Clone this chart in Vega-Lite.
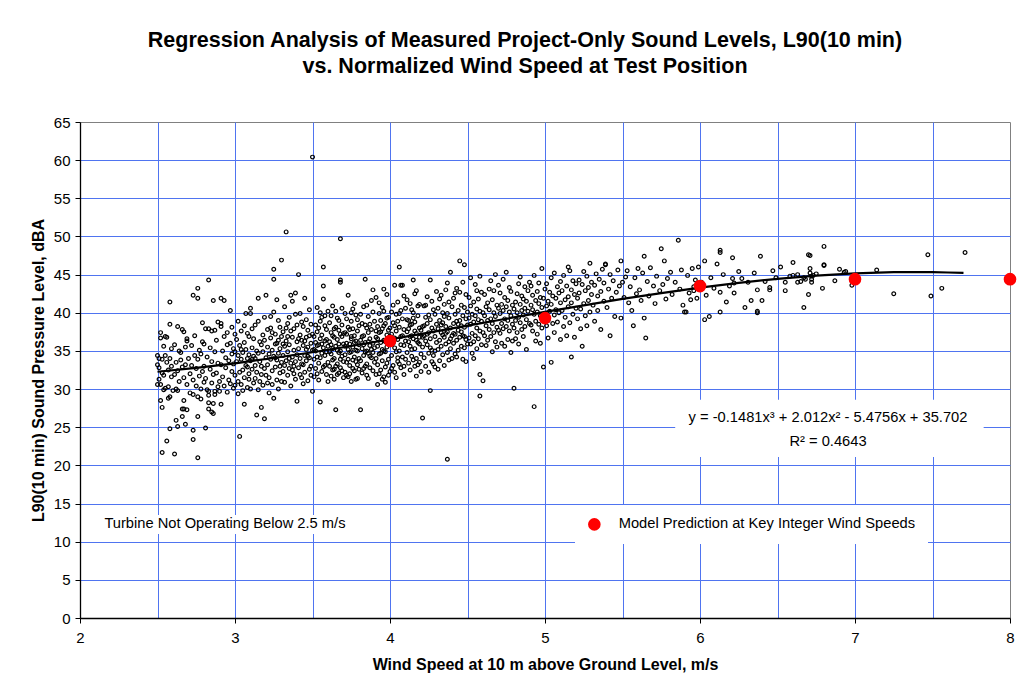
{
"$schema": "https://vega.github.io/schema/vega-lite/v6.json",
"width": 930, "height": 496,
"autosize": "none",
"padding": {"left": 80, "top": 122, "right": 9, "bottom": 71},
"background": "white",
"config": {"view": {"stroke": "#808080", "strokeWidth": 1}, "font": "Liberation Sans"},
"title": {"text": ["Regression Analysis of Measured Project-Only Sound Levels, L90(10 min)", "vs. Normalized Wind Speed at Test Position"], "font": "Liberation Sans", "fontSize": 21.5, "fontWeight": "bold", "color": "black", "anchor": "middle", "frame": "group", "offset": 38, "dx": -20, "lineHeight": 26},
"datasets": {
"boxes": [
{"x": 5.84, "x2": 7.83, "y": 21.1, "y2": 28.6},
{"x": 2.13, "x2": 3.77, "y": 11.0, "y2": 13.5}
],
"notes": [
{"x": 6.826, "y": 26.2, "text": "y = -0.1481x³ + 2.012x² - 5.4756x + 35.702"},
{"x": 6.826, "y": 23.07, "text": "R² = 0.4643"},
{"x": 2.935, "y": 12.3, "text": "Turbine Not Operating Below 2.5 m/s"}
],
"model": [
{"x": 4, "y": 36.3}, {"x": 5, "y": 39.3}, {"x": 6, "y": 43.5}, {"x": 7, "y": 44.4}, {"x": 8, "y": 44.4}
],
"trend": [
{"x": 2.5, "y": 32.27}, {"x": 2.75, "y": 32.78}, {"x": 3.0, "y": 33.38}, {"x": 3.25, "y": 34.07}, {"x": 3.5, "y": 34.83}, {"x": 3.75, "y": 35.65}, {"x": 4.0, "y": 36.51}, {"x": 4.25, "y": 37.4}, {"x": 4.5, "y": 38.31}, {"x": 4.75, "y": 39.22}, {"x": 5.0, "y": 40.11}, {"x": 5.25, "y": 40.98}, {"x": 5.5, "y": 41.81}, {"x": 5.75, "y": 42.58}, {"x": 6.0, "y": 43.29}, {"x": 6.25, "y": 43.92}, {"x": 6.5, "y": 44.45}, {"x": 6.75, "y": 44.87}, {"x": 7.0, "y": 45.16}, {"x": 7.25, "y": 45.32}, {"x": 7.5, "y": 45.33}, {"x": 7.6, "y": 45.28}, {"x": 7.7, "y": 45.22}
],
"pts": [
{"x":2.50,"y":34.4},{"x":2.50,"y":33.2},{"x":2.50,"y":30.6},{"x":2.51,"y":34.0},{"x":2.51,"y":31.3},{"x":2.51,"y":32.8},{"x":2.52,"y":37.4},{"x":2.52,"y":36.7},{"x":2.52,"y":30.6},{"x":2.52,"y":28.5},{"x":2.53,"y":27.6},{"x":2.53,"y":21.7},{"x":2.53,"y":33.9},{"x":2.53,"y":32.1},{"x":2.54,"y":35.6},{"x":2.54,"y":31.8},{"x":2.54,"y":29.9},{"x":2.55,"y":36.9},{"x":2.55,"y":34.4},{"x":2.55,"y":30.1},{"x":2.56,"y":23.2},{"x":2.56,"y":33.5},{"x":2.56,"y":36.8},{"x":2.57,"y":28.8},{"x":2.57,"y":32.5},{"x":2.57,"y":30.3},{"x":2.58,"y":41.4},{"x":2.58,"y":38.5},{"x":2.58,"y":34.0},{"x":2.58,"y":24.8},{"x":2.58,"y":29.0},{"x":2.59,"y":31.6},{"x":2.59,"y":35.3},{"x":2.59,"y":33.0},{"x":2.60,"y":29.8},
{"x":2.61,"y":21.5},{"x":2.61,"y":35.8},{"x":2.61,"y":31.9},{"x":2.62,"y":25.9},{"x":2.62,"y":30.0},{"x":2.62,"y":33.5},{"x":2.63,"y":38.2},{"x":2.63,"y":25.1},{"x":2.63,"y":29.8},{"x":2.63,"y":32.4},{"x":2.64,"y":35.0},{"x":2.64,"y":31.0},{"x":2.65,"y":33.8},{"x":2.65,"y":34.8},{"x":2.66,"y":37.8},{"x":2.66,"y":26.4},{"x":2.66,"y":27.4},{"x":2.66,"y":32.9},{"x":2.67,"y":37.5},{"x":2.67,"y":28.5},{"x":2.67,"y":27.4},{"x":2.67,"y":31.5},{"x":2.68,"y":25.4},{"x":2.68,"y":33.2},{"x":2.68,"y":35.5},{"x":2.69,"y":36.6},{"x":2.69,"y":36.3},{"x":2.69,"y":27.3},{"x":2.69,"y":30.6},{"x":2.70,"y":34.0},
{"x":2.71,"y":32.0},{"x":2.71,"y":29.5},{"x":2.72,"y":35.7},{"x":2.72,"y":33.1},{"x":2.73,"y":23.4},{"x":2.73,"y":24.6},{"x":2.73,"y":29.3},{"x":2.73,"y":42.3},{"x":2.73,"y":31.2},{"x":2.74,"y":34.4},{"x":2.74,"y":37.0},{"x":2.75,"y":30.4},{"x":2.75,"y":32.7},{"x":2.76,"y":21.0},{"x":2.76,"y":26.4},{"x":2.76,"y":29.0},{"x":2.76,"y":43.2},{"x":2.76,"y":41.9},{"x":2.76,"y":33.9},{"x":2.77,"y":35.1},{"x":2.77,"y":31.7},{"x":2.78,"y":30.0},{"x":2.78,"y":34.6},{"x":2.78,"y":28.7},{"x":2.79,"y":32.3},{"x":2.79,"y":36.2},{"x":2.79,"y":38.7},{"x":2.80,"y":33.0},{"x":2.80,"y":30.9},{"x":2.80,"y":35.9},
{"x":2.81,"y":24.9},{"x":2.81,"y":37.9},{"x":2.81,"y":31.4},{"x":2.82,"y":34.2},{"x":2.82,"y":29.9},{"x":2.83,"y":44.3},{"x":2.83,"y":37.9},{"x":2.83,"y":29.2},{"x":2.83,"y":29.7},{"x":2.83,"y":28.2},{"x":2.83,"y":27.4},{"x":2.84,"y":32.6},{"x":2.84,"y":35.4},{"x":2.85,"y":37.6},{"x":2.85,"y":27.0},{"x":2.85,"y":30.8},{"x":2.85,"y":33.6},{"x":2.86,"y":41.6},{"x":2.86,"y":26.8},{"x":2.86,"y":28.1},{"x":2.86,"y":31.9},{"x":2.87,"y":37.7},{"x":2.87,"y":29.3},{"x":2.87,"y":29.7},{"x":2.87,"y":34.9},{"x":2.88,"y":32.1},{"x":2.88,"y":36.4},{"x":2.89,"y":30.3},{"x":2.89,"y":33.4},{"x":2.89,"y":38.8},{"x":2.90,"y":29.7},{"x":2.90,"y":31.0},
{"x":2.91,"y":41.9},{"x":2.91,"y":38.6},{"x":2.91,"y":38.2},{"x":2.91,"y":28.0},{"x":2.91,"y":33.2},{"x":2.92,"y":35.0},{"x":2.92,"y":31.6},{"x":2.93,"y":41.6},{"x":2.93,"y":36.9},{"x":2.93,"y":30.4},{"x":2.94,"y":34.1},{"x":2.94,"y":32.8},{"x":2.95,"y":37.4},{"x":2.95,"y":29.6},{"x":2.95,"y":35.8},{"x":2.96,"y":33.7},{"x":2.96,"y":31.2},{"x":2.97,"y":40.3},{"x":2.97,"y":36.0},{"x":2.97,"y":30.7},{"x":2.98,"y":34.6},{"x":2.98,"y":32.3},{"x":2.98,"y":38.1},{"x":2.99,"y":33.3},{"x":2.99,"y":30.1},{"x":2.99,"y":35.3},{"x":3.00,"y":31.8},{"x":3.00,"y":34.9},{"x":3.00,"y":37.2},{"x":3.00,"y":30.5},
{"x":3.01,"y":33.6},{"x":3.01,"y":36.5},{"x":3.02,"y":31.0},{"x":3.02,"y":34.4},{"x":3.02,"y":38.9},{"x":3.03,"y":23.8},{"x":3.03,"y":32.2},{"x":3.03,"y":35.7},{"x":3.04,"y":30.6},{"x":3.04,"y":33.9},{"x":3.04,"y":37.6},{"x":3.05,"y":29.8},{"x":3.05,"y":34.8},{"x":3.05,"y":32.5},{"x":3.06,"y":28.0},{"x":3.06,"y":36.1},{"x":3.06,"y":31.5},{"x":3.07,"y":39.9},{"x":3.07,"y":33.1},{"x":3.07,"y":35.2},{"x":3.08,"y":30.2},{"x":3.08,"y":37.3},{"x":3.08,"y":32.9},{"x":3.09,"y":34.5},{"x":3.09,"y":31.3},{"x":3.09,"y":36.9},{"x":3.10,"y":40.6},{"x":3.10,"y":39.9},{"x":3.10,"y":33.7},{"x":3.10,"y":30.0},{"x":3.06,"y":38.3},{"x":3.04,"y":35.2},{"x":3.08,"y":34.0},{"x":3.02,"y":29.4},{"x":3.09,"y":32.0},
{"x":3.11,"y":35.4},{"x":3.11,"y":32.6},{"x":3.11,"y":37.9},{"x":3.12,"y":30.8},{"x":3.12,"y":34.3},{"x":3.12,"y":36.6},{"x":3.13,"y":33.1},{"x":3.13,"y":31.4},{"x":3.13,"y":38.4},{"x":3.14,"y":26.6},{"x":3.14,"y":35.0},{"x":3.14,"y":32.2},{"x":3.15,"y":41.9},{"x":3.15,"y":34.7},{"x":3.15,"y":29.9},{"x":3.16,"y":36.2},{"x":3.16,"y":33.6},{"x":3.16,"y":31.0},{"x":3.17,"y":27.6},{"x":3.17,"y":35.8},{"x":3.17,"y":33.0},{"x":3.18,"y":37.1},{"x":3.18,"y":30.5},{"x":3.18,"y":34.9},{"x":3.19,"y":26.1},{"x":3.19,"y":32.7},{"x":3.19,"y":36.4},{"x":3.20,"y":42.3},{"x":3.20,"y":34.1},{"x":3.20,"y":31.8},{"x":3.13,"y":34.0},{"x":3.15,"y":38.9},{"x":3.17,"y":31.9},{"x":3.19,"y":39.4},{"x":3.11,"y":33.9},
{"x":3.21,"y":35.5},{"x":3.21,"y":33.2},{"x":3.21,"y":37.8},{"x":3.22,"y":29.5},{"x":3.22,"y":34.6},{"x":3.22,"y":31.5},{"x":3.23,"y":36.7},{"x":3.23,"y":33.9},{"x":3.23,"y":39.5},{"x":3.24,"y":32.4},{"x":3.24,"y":35.1},{"x":3.24,"y":30.6},{"x":3.25,"y":45.7},{"x":3.25,"y":44.4},{"x":3.25,"y":28.8},{"x":3.25,"y":34.3},{"x":3.26,"y":37.2},{"x":3.26,"y":32.9},{"x":3.26,"y":35.9},{"x":3.27,"y":41.7},{"x":3.27,"y":31.2},{"x":3.27,"y":33.8},{"x":3.28,"y":36.4},{"x":3.28,"y":34.7},{"x":3.28,"y":30.0},{"x":3.29,"y":38.1},{"x":3.29,"y":32.1},{"x":3.29,"y":35.3},{"x":3.30,"y":46.9},{"x":3.30,"y":33.5},{"x":3.30,"y":36.9},{"x":3.30,"y":31.0},{"x":3.23,"y":38.0},{"x":3.25,"y":40.1},{"x":3.27,"y":36.0},{"x":3.29,"y":33.0},{"x":3.21,"y":30.8},{"x":3.24,"y":37.4},{"x":3.26,"y":34.1},{"x":3.28,"y":39.0},
{"x":3.31,"y":34.4},{"x":3.31,"y":37.5},{"x":3.31,"y":32.3},{"x":3.32,"y":40.8},{"x":3.32,"y":35.6},{"x":3.32,"y":30.9},{"x":3.33,"y":50.6},{"x":3.33,"y":33.7},{"x":3.33,"y":36.3},{"x":3.34,"y":31.8},{"x":3.34,"y":38.6},{"x":3.34,"y":34.9},{"x":3.35,"y":32.7},{"x":3.35,"y":35.8},{"x":3.35,"y":39.4},{"x":3.36,"y":42.3},{"x":3.36,"y":33.4},{"x":3.36,"y":30.4},{"x":3.37,"y":41.5},{"x":3.37,"y":36.8},{"x":3.37,"y":34.2},{"x":3.38,"y":32.0},{"x":3.38,"y":37.9},{"x":3.38,"y":35.1},{"x":3.39,"y":42.6},{"x":3.39,"y":33.6},{"x":3.39,"y":31.3},{"x":3.40,"y":28.4},{"x":3.40,"y":36.2},{"x":3.40,"y":34.5},{"x":3.33,"y":38.0},{"x":3.35,"y":34.0},{"x":3.37,"y":32.5},{"x":3.39,"y":39.8},{"x":3.31,"y":35.9},{"x":3.34,"y":36.9},{"x":3.36,"y":37.6},{"x":3.38,"y":33.0},{"x":3.32,"y":33.1},{"x":3.40,"y":38.4},
{"x":3.41,"y":45.0},{"x":3.41,"y":35.3},{"x":3.41,"y":32.8},{"x":3.42,"y":37.1},{"x":3.42,"y":34.0},{"x":3.42,"y":39.9},{"x":3.43,"y":31.5},{"x":3.43,"y":36.4},{"x":3.43,"y":33.3},{"x":3.44,"y":35.7},{"x":3.44,"y":38.2},{"x":3.44,"y":30.7},{"x":3.45,"y":41.9},{"x":3.45,"y":34.4},{"x":3.45,"y":32.2},{"x":3.46,"y":36.8},{"x":3.46,"y":33.7},{"x":3.46,"y":39.1},{"x":3.47,"y":31.1},{"x":3.47,"y":35.5},{"x":3.47,"y":37.7},{"x":3.48,"y":34.1},{"x":3.48,"y":32.6},{"x":3.48,"y":40.4},{"x":3.49,"y":36.0},{"x":3.49,"y":33.0},{"x":3.49,"y":38.5},{"x":3.50,"y":60.4},{"x":3.50,"y":29.7},{"x":3.50,"y":35.1},{"x":3.50,"y":37.2},{"x":3.42,"y":31.9},{"x":3.44,"y":33.2},{"x":3.46,"y":35.2},{"x":3.48,"y":37.0},{"x":3.43,"y":38.8},{"x":3.45,"y":36.3},{"x":3.47,"y":34.3},{"x":3.49,"y":31.8},{"x":3.41,"y":36.6},
{"x":3.51,"y":33.9},{"x":3.51,"y":36.9},{"x":3.51,"y":31.6},{"x":3.52,"y":38.4},{"x":3.52,"y":35.0},{"x":3.52,"y":32.7},{"x":3.53,"y":37.5},{"x":3.53,"y":34.2},{"x":3.53,"y":40.7},{"x":3.54,"y":31.2},{"x":3.54,"y":35.8},{"x":3.54,"y":33.4},{"x":3.55,"y":28.3},{"x":3.55,"y":36.6},{"x":3.55,"y":38.9},{"x":3.56,"y":34.7},{"x":3.56,"y":32.3},{"x":3.56,"y":37.1},{"x":3.57,"y":46.0},{"x":3.57,"y":43.5},{"x":3.57,"y":41.8},{"x":3.57,"y":35.4},{"x":3.58,"y":33.1},{"x":3.58,"y":36.3},{"x":3.58,"y":39.6},{"x":3.59,"y":31.9},{"x":3.59,"y":34.9},{"x":3.59,"y":37.8},{"x":3.60,"y":35.6},{"x":3.60,"y":33.5},{"x":3.60,"y":40.2},{"x":3.52,"y":36.1},{"x":3.54,"y":38.0},{"x":3.56,"y":35.9},{"x":3.58,"y":34.4},{"x":3.53,"y":32.0},{"x":3.55,"y":34.1},{"x":3.57,"y":32.9},{"x":3.59,"y":36.5},{"x":3.51,"y":35.2},{"x":3.55,"y":40.0},{"x":3.58,"y":38.3},{"x":3.53,"y":35.7},{"x":3.56,"y":39.4},{"x":3.60,"y":31.0},
{"x":3.61,"y":36.2},{"x":3.61,"y":33.0},{"x":3.61,"y":38.7},{"x":3.62,"y":34.6},{"x":3.62,"y":31.7},{"x":3.62,"y":37.4},{"x":3.63,"y":35.3},{"x":3.63,"y":32.5},{"x":3.63,"y":40.9},{"x":3.64,"y":36.8},{"x":3.64,"y":34.0},{"x":3.64,"y":31.3},{"x":3.65,"y":27.3},{"x":3.65,"y":38.1},{"x":3.65,"y":35.6},{"x":3.66,"y":33.3},{"x":3.66,"y":36.5},{"x":3.66,"y":39.3},{"x":3.67,"y":32.1},{"x":3.67,"y":34.8},{"x":3.67,"y":37.7},{"x":3.68,"y":49.7},{"x":3.68,"y":44.0},{"x":3.68,"y":44.3},{"x":3.68,"y":35.0},{"x":3.68,"y":32.8},{"x":3.69,"y":36.9},{"x":3.69,"y":34.3},{"x":3.69,"y":38.4},{"x":3.70,"y":35.9},{"x":3.70,"y":33.6},{"x":3.70,"y":31.5},{"x":3.62,"y":35.8},{"x":3.64,"y":37.9},{"x":3.66,"y":35.1},{"x":3.68,"y":37.2},{"x":3.63,"y":33.8},{"x":3.65,"y":33.0},{"x":3.67,"y":35.9},{"x":3.69,"y":32.4},{"x":3.61,"y":34.9},{"x":3.63,"y":37.0},{"x":3.65,"y":40.2},{"x":3.67,"y":39.0},{"x":3.69,"y":40.6},{"x":3.62,"y":39.6},{"x":3.64,"y":32.6},{"x":3.66,"y":31.9},{"x":3.68,"y":33.9},{"x":3.70,"y":37.3},
{"x":3.71,"y":34.5},{"x":3.71,"y":37.4},{"x":3.71,"y":32.2},{"x":3.72,"y":36.0},{"x":3.72,"y":33.5},{"x":3.72,"y":39.2},{"x":3.73,"y":42.3},{"x":3.73,"y":35.2},{"x":3.73,"y":31.6},{"x":3.74,"y":37.8},{"x":3.74,"y":34.8},{"x":3.74,"y":33.1},{"x":3.75,"y":36.6},{"x":3.75,"y":31.0},{"x":3.75,"y":38.9},{"x":3.76,"y":35.5},{"x":3.76,"y":33.8},{"x":3.76,"y":40.5},{"x":3.77,"y":37.0},{"x":3.77,"y":34.2},{"x":3.77,"y":32.4},{"x":3.78,"y":36.3},{"x":3.78,"y":39.7},{"x":3.78,"y":35.1},{"x":3.79,"y":33.2},{"x":3.79,"y":37.6},{"x":3.79,"y":31.4},{"x":3.80,"y":35.8},{"x":3.80,"y":38.3},{"x":3.80,"y":34.0},{"x":3.72,"y":37.2},{"x":3.74,"y":35.9},{"x":3.76,"y":37.9},{"x":3.78,"y":33.6},{"x":3.73,"y":33.9},{"x":3.75,"y":34.9},{"x":3.77,"y":36.1},{"x":3.79,"y":35.0},{"x":3.71,"y":35.6},{"x":3.73,"y":38.1},{"x":3.75,"y":40.0},{"x":3.77,"y":41.2},{"x":3.79,"y":39.1},{"x":3.72,"y":31.8},{"x":3.74,"y":32.0},{"x":3.76,"y":32.7},{"x":3.78,"y":31.3},{"x":3.80,"y":32.6},{"x":3.75,"y":36.9},{"x":3.71,"y":39.9},
{"x":3.81,"y":27.3},{"x":3.81,"y":36.4},{"x":3.81,"y":33.7},{"x":3.82,"y":38.6},{"x":3.82,"y":35.3},{"x":3.82,"y":32.1},{"x":3.83,"y":37.0},{"x":3.83,"y":34.4},{"x":3.83,"y":40.8},{"x":3.84,"y":44.4},{"x":3.84,"y":36.1},{"x":3.84,"y":33.0},{"x":3.85,"y":38.0},{"x":3.85,"y":35.0},{"x":3.85,"y":31.8},{"x":3.86,"y":37.4},{"x":3.86,"y":34.7},{"x":3.86,"y":39.5},{"x":3.87,"y":36.6},{"x":3.87,"y":32.8},{"x":3.87,"y":35.7},{"x":3.88,"y":41.6},{"x":3.88,"y":34.1},{"x":3.88,"y":37.8},{"x":3.89,"y":43.0},{"x":3.89,"y":36.0},{"x":3.89,"y":32.4},{"x":3.90,"y":35.4},{"x":3.90,"y":38.9},{"x":3.90,"y":33.5},{"x":3.82,"y":36.9},{"x":3.84,"y":38.4},{"x":3.86,"y":36.2},{"x":3.88,"y":35.2},{"x":3.83,"y":32.7},{"x":3.85,"y":33.3},{"x":3.87,"y":34.3},{"x":3.89,"y":34.8},{"x":3.81,"y":39.8},{"x":3.83,"y":35.8},{"x":3.85,"y":41.0},{"x":3.87,"y":38.5},{"x":3.89,"y":40.1},{"x":3.86,"y":31.4},{"x":3.84,"y":34.9},
{"x":3.91,"y":36.8},{"x":3.91,"y":34.0},{"x":3.91,"y":31.9},{"x":3.92,"y":38.2},{"x":3.92,"y":35.6},{"x":3.92,"y":33.2},{"x":3.93,"y":37.4},{"x":3.93,"y":34.6},{"x":3.93,"y":41.3},{"x":3.94,"y":36.1},{"x":3.94,"y":32.5},{"x":3.94,"y":39.0},{"x":3.95,"y":35.2},{"x":3.95,"y":33.7},{"x":3.95,"y":37.9},{"x":3.96,"y":36.4},{"x":3.96,"y":31.6},{"x":3.96,"y":40.2},{"x":3.97,"y":34.9},{"x":3.97,"y":38.6},{"x":3.97,"y":32.9},{"x":3.98,"y":37.1},{"x":3.98,"y":35.5},{"x":3.98,"y":42.4},{"x":3.99,"y":33.9},{"x":3.99,"y":36.7},{"x":3.99,"y":39.4},{"x":4.00,"y":35.8},{"x":4.00,"y":32.3},{"x":4.00,"y":38.0},{"x":3.92,"y":36.6},{"x":3.94,"y":34.7},{"x":3.96,"y":35.0},{"x":3.98,"y":33.4},{"x":3.93,"y":39.9},{"x":3.95,"y":40.7},{"x":3.97,"y":36.2},{"x":3.99,"y":37.7},{"x":3.91,"y":37.6},{"x":3.93,"y":32.0},{"x":3.95,"y":31.3},{"x":3.97,"y":30.9},{"x":3.99,"y":31.8},{"x":3.92,"y":30.6},{"x":3.94,"y":37.5},{"x":3.96,"y":38.3},{"x":3.98,"y":39.3},{"x":4.00,"y":36.9},{"x":3.96,"y":43.1},{"x":3.91,"y":42.0},
{"x":4.01,"y":37.2},{"x":4.01,"y":34.4},{"x":4.01,"y":40.1},{"x":4.02,"y":36.0},{"x":4.02,"y":33.1},{"x":4.02,"y":38.7},{"x":4.03,"y":43.6},{"x":4.03,"y":35.4},{"x":4.03,"y":32.2},{"x":4.04,"y":37.6},{"x":4.04,"y":34.9},{"x":4.04,"y":39.8},{"x":4.05,"y":36.5},{"x":4.05,"y":33.6},{"x":4.05,"y":41.4},{"x":4.06,"y":46.0},{"x":4.06,"y":38.1},{"x":4.06,"y":35.0},{"x":4.07,"y":43.6},{"x":4.07,"y":36.9},{"x":4.07,"y":32.8},{"x":4.08,"y":43.6},{"x":4.08,"y":34.2},{"x":4.08,"y":39.2},{"x":4.09,"y":37.8},{"x":4.09,"y":35.7},{"x":4.09,"y":31.9},{"x":4.10,"y":36.3},{"x":4.10,"y":40.6},{"x":4.10,"y":33.9},{"x":4.02,"y":41.0},{"x":4.04,"y":31.5},{"x":4.06,"y":33.3},{"x":4.08,"y":37.0},{"x":4.03,"y":38.3},{"x":4.05,"y":38.9},{"x":4.07,"y":40.3},{"x":4.09,"y":42.2},{"x":4.01,"y":35.9},{"x":4.03,"y":36.7},{"x":4.05,"y":34.1},{"x":4.07,"y":35.8},{"x":4.09,"y":33.0},{"x":4.01,"y":32.7},{"x":4.06,"y":39.9},
{"x":4.11,"y":37.5},{"x":4.11,"y":34.8},{"x":4.11,"y":41.7},{"x":4.12,"y":36.2},{"x":4.12,"y":33.4},{"x":4.12,"y":39.0},{"x":4.13,"y":38.4},{"x":4.13,"y":35.6},{"x":4.13,"y":32.5},{"x":4.14,"y":37.0},{"x":4.14,"y":40.4},{"x":4.14,"y":34.3},{"x":4.15,"y":44.3},{"x":4.15,"y":36.6},{"x":4.15,"y":33.8},{"x":4.16,"y":38.8},{"x":4.16,"y":35.3},{"x":4.16,"y":42.5},{"x":4.17,"y":37.3},{"x":4.17,"y":34.0},{"x":4.17,"y":31.7},{"x":4.18,"y":39.6},{"x":4.18,"y":36.1},{"x":4.18,"y":33.2},{"x":4.19,"y":38.0},{"x":4.19,"y":35.9},{"x":4.19,"y":41.1},{"x":4.20,"y":37.7},{"x":4.20,"y":34.6},{"x":4.20,"y":32.3},{"x":4.12,"y":37.9},{"x":4.14,"y":35.2},{"x":4.16,"y":37.6},{"x":4.18,"y":40.9},{"x":4.13,"y":41.2},{"x":4.15,"y":39.3},{"x":4.17,"y":36.4},{"x":4.19,"y":33.5},{"x":4.11,"y":39.1},{"x":4.13,"y":36.9},{"x":4.15,"y":40.0},{"x":4.17,"y":42.9},{"x":4.19,"y":36.8},{"x":4.14,"y":38.5},{"x":4.16,"y":33.0},
{"x":4.21,"y":38.2},{"x":4.21,"y":35.5},{"x":4.21,"y":26.2},{"x":4.22,"y":37.0},{"x":4.22,"y":34.1},{"x":4.22,"y":40.9},{"x":4.23,"y":39.4},{"x":4.23,"y":36.3},{"x":4.23,"y":33.0},{"x":4.24,"y":38.6},{"x":4.24,"y":35.8},{"x":4.24,"y":42.1},{"x":4.25,"y":37.4},{"x":4.25,"y":34.7},{"x":4.25,"y":32.2},{"x":4.26,"y":44.3},{"x":4.26,"y":29.8},{"x":4.26,"y":39.1},{"x":4.26,"y":36.6},{"x":4.27,"y":38.0},{"x":4.27,"y":35.1},{"x":4.27,"y":41.5},{"x":4.28,"y":37.6},{"x":4.28,"y":34.4},{"x":4.28,"y":33.3},{"x":4.29,"y":39.8},{"x":4.29,"y":36.9},{"x":4.29,"y":35.0},{"x":4.30,"y":38.5},{"x":4.30,"y":36.1},{"x":4.30,"y":42.8},{"x":4.22,"y":38.3},{"x":4.24,"y":37.2},{"x":4.26,"y":35.4},{"x":4.28,"y":40.4},{"x":4.23,"y":41.0},{"x":4.25,"y":39.7},{"x":4.27,"y":33.6},{"x":4.29,"y":32.9},{"x":4.21,"y":36.8},
{"x":4.31,"y":37.9},{"x":4.31,"y":35.2},{"x":4.31,"y":40.6},{"x":4.32,"y":39.0},{"x":4.32,"y":36.4},{"x":4.32,"y":33.7},{"x":4.33,"y":38.4},{"x":4.33,"y":35.6},{"x":4.33,"y":42.3},{"x":4.34,"y":37.1},{"x":4.34,"y":34.5},{"x":4.34,"y":40.0},{"x":4.35,"y":39.5},{"x":4.35,"y":36.8},{"x":4.35,"y":33.1},{"x":4.36,"y":38.2},{"x":4.36,"y":35.9},{"x":4.36,"y":43.0},{"x":4.37,"y":20.8},{"x":4.37,"y":43.9},{"x":4.37,"y":37.5},{"x":4.37,"y":34.8},{"x":4.38,"y":39.3},{"x":4.38,"y":36.2},{"x":4.38,"y":41.4},{"x":4.39,"y":45.3},{"x":4.39,"y":38.0},{"x":4.39,"y":35.3},{"x":4.40,"y":37.0},{"x":4.40,"y":40.8},{"x":4.40,"y":34.0},{"x":4.32,"y":41.8},{"x":4.34,"y":38.7},{"x":4.36,"y":37.3},{"x":4.38,"y":33.8},{"x":4.33,"y":37.4},{"x":4.35,"y":41.1},{"x":4.37,"y":39.9},{"x":4.39,"y":36.6},{"x":4.31,"y":32.6},
{"x":4.41,"y":38.6},{"x":4.41,"y":36.0},{"x":4.41,"y":41.9},{"x":4.42,"y":39.8},{"x":4.42,"y":37.2},{"x":4.42,"y":34.6},{"x":4.43,"y":38.9},{"x":4.43,"y":36.4},{"x":4.43,"y":43.2},{"x":4.44,"y":40.3},{"x":4.44,"y":37.7},{"x":4.44,"y":35.1},{"x":4.45,"y":46.8},{"x":4.45,"y":42.7},{"x":4.45,"y":39.0},{"x":4.45,"y":36.8},{"x":4.46,"y":38.3},{"x":4.46,"y":35.6},{"x":4.46,"y":41.0},{"x":4.47,"y":39.6},{"x":4.47,"y":37.0},{"x":4.47,"y":33.9},{"x":4.48,"y":46.3},{"x":4.48,"y":40.7},{"x":4.48,"y":38.1},{"x":4.48,"y":35.4},{"x":4.49,"y":39.2},{"x":4.49,"y":36.5},{"x":4.49,"y":42.4},{"x":4.50,"y":38.4},{"x":4.50,"y":35.9},{"x":4.50,"y":40.1},{"x":4.42,"y":42.6},{"x":4.44,"y":38.5},{"x":4.46,"y":37.5},{"x":4.48,"y":36.9},{"x":4.43,"y":34.2},{"x":4.47,"y":44.0},{"x":4.49,"y":33.6},{"x":4.41,"y":37.3},
{"x":4.51,"y":39.3},{"x":4.51,"y":36.7},{"x":4.51,"y":42.0},{"x":4.52,"y":38.5},{"x":4.52,"y":35.9},{"x":4.52,"y":40.9},{"x":4.53,"y":39.8},{"x":4.53,"y":37.3},{"x":4.53,"y":34.7},{"x":4.54,"y":41.4},{"x":4.54,"y":38.8},{"x":4.54,"y":36.2},{"x":4.55,"y":43.7},{"x":4.55,"y":39.6},{"x":4.55,"y":37.0},{"x":4.56,"y":40.5},{"x":4.56,"y":38.0},{"x":4.56,"y":35.3},{"x":4.57,"y":41.8},{"x":4.57,"y":39.1},{"x":4.57,"y":36.6},{"x":4.58,"y":29.1},{"x":4.58,"y":31.9},{"x":4.58,"y":40.2},{"x":4.58,"y":37.6},{"x":4.59,"y":42.7},{"x":4.59,"y":38.9},{"x":4.59,"y":35.8},{"x":4.60,"y":31.1},{"x":4.60,"y":40.0},{"x":4.60,"y":37.4},{"x":4.52,"y":44.6},{"x":4.54,"y":34.0},{"x":4.56,"y":42.9},{"x":4.58,"y":44.8},
{"x":4.61,"y":39.6},{"x":4.61,"y":37.0},{"x":4.61,"y":42.4},{"x":4.62,"y":40.8},{"x":4.62,"y":38.3},{"x":4.62,"y":35.7},{"x":4.63,"y":41.3},{"x":4.63,"y":39.0},{"x":4.63,"y":36.4},{"x":4.64,"y":43.1},{"x":4.64,"y":40.4},{"x":4.64,"y":37.8},{"x":4.65,"y":39.2},{"x":4.65,"y":36.9},{"x":4.65,"y":44.2},{"x":4.66,"y":41.7},{"x":4.66,"y":38.6},{"x":4.66,"y":34.9},{"x":4.67,"y":40.0},{"x":4.67,"y":37.4},{"x":4.67,"y":42.9},{"x":4.68,"y":39.5},{"x":4.68,"y":36.2},{"x":4.68,"y":45.0},{"x":4.69,"y":41.0},{"x":4.69,"y":38.1},{"x":4.69,"y":35.5},{"x":4.70,"y":40.6},{"x":4.70,"y":37.7},{"x":4.70,"y":43.6},
{"x":4.71,"y":39.9},{"x":4.71,"y":37.3},{"x":4.71,"y":42.6},{"x":4.72,"y":41.1},{"x":4.72,"y":38.6},{"x":4.72,"y":36.0},{"x":4.73,"y":40.3},{"x":4.73,"y":37.9},{"x":4.73,"y":44.4},{"x":4.74,"y":39.2},{"x":4.74,"y":42.0},{"x":4.74,"y":35.6},{"x":4.75,"y":45.3},{"x":4.75,"y":40.8},{"x":4.75,"y":38.2},{"x":4.76,"y":41.6},{"x":4.76,"y":39.0},{"x":4.76,"y":36.5},{"x":4.77,"y":43.3},{"x":4.77,"y":40.1},{"x":4.77,"y":37.6},{"x":4.78,"y":39.6},{"x":4.78,"y":42.8},{"x":4.78,"y":34.8},{"x":4.79,"y":41.0},{"x":4.79,"y":38.5},{"x":4.79,"y":36.3},{"x":4.80,"y":30.1},{"x":4.80,"y":40.5},{"x":4.80,"y":38.0},
{"x":4.81,"y":41.4},{"x":4.81,"y":39.0},{"x":4.81,"y":36.6},{"x":4.82,"y":42.5},{"x":4.82,"y":40.0},{"x":4.82,"y":37.4},{"x":4.83,"y":43.8},{"x":4.83,"y":39.4},{"x":4.83,"y":35.9},{"x":4.84,"y":41.1},{"x":4.84,"y":38.7},{"x":4.84,"y":44.7},{"x":4.85,"y":40.3},{"x":4.85,"y":37.8},{"x":4.85,"y":42.2},{"x":4.86,"y":39.7},{"x":4.86,"y":36.9},{"x":4.86,"y":41.8},{"x":4.87,"y":43.4},{"x":4.87,"y":40.6},{"x":4.87,"y":38.2},{"x":4.88,"y":39.1},{"x":4.88,"y":41.5},{"x":4.88,"y":35.2},{"x":4.89,"y":42.9},{"x":4.89,"y":40.2},{"x":4.90,"y":38.6},{"x":4.90,"y":44.0},
{"x":4.91,"y":41.0},{"x":4.91,"y":38.4},{"x":4.91,"y":43.5},{"x":4.92,"y":40.4},{"x":4.92,"y":37.6},{"x":4.92,"y":42.3},{"x":4.93,"y":27.7},{"x":4.93,"y":39.8},{"x":4.93,"y":44.9},{"x":4.94,"y":41.6},{"x":4.94,"y":38.9},{"x":4.94,"y":36.3},{"x":4.95,"y":42.8},{"x":4.95,"y":40.1},{"x":4.95,"y":37.2},{"x":4.96,"y":43.9},{"x":4.96,"y":41.2},{"x":4.96,"y":38.5},{"x":4.97,"y":39.6},{"x":4.97,"y":42.0},{"x":4.97,"y":36.0},{"x":4.98,"y":45.8},{"x":4.98,"y":40.7},{"x":4.98,"y":38.0},{"x":4.99,"y":32.9},{"x":4.99,"y":41.9},{"x":4.99,"y":39.3},{"x":5.00,"y":43.1},
{"x":5.01,"y":40.9},{"x":5.01,"y":38.3},{"x":5.01,"y":43.8},{"x":5.02,"y":41.5},{"x":5.02,"y":39.0},{"x":5.02,"y":36.7},{"x":5.03,"y":42.7},{"x":5.03,"y":40.2},{"x":5.04,"y":33.5},{"x":5.04,"y":44.6},{"x":5.04,"y":41.1},{"x":5.05,"y":38.6},{"x":5.05,"y":42.2},{"x":5.06,"y":39.7},{"x":5.06,"y":45.2},{"x":5.06,"y":37.4},{"x":5.07,"y":41.9},{"x":5.07,"y":40.4},{"x":5.08,"y":43.4},{"x":5.08,"y":38.8},{"x":5.09,"y":42.6},{"x":5.09,"y":40.0},{"x":5.10,"y":36.5},{"x":5.10,"y":44.1},{"x":5.10,"y":41.3},
{"x":5.11,"y":42.9},{"x":5.11,"y":40.3},{"x":5.12,"y":38.2},{"x":5.12,"y":44.9},{"x":5.13,"y":41.7},{"x":5.13,"y":39.4},{"x":5.14,"y":43.5},{"x":5.14,"y":37.0},{"x":5.15,"y":42.1},{"x":5.15,"y":40.8},{"x":5.16,"y":45.5},{"x":5.16,"y":38.7},{"x":5.17,"y":34.2},{"x":5.17,"y":43.0},{"x":5.17,"y":41.3},{"x":5.18,"y":39.8},{"x":5.18,"y":44.2},{"x":5.19,"y":42.4},{"x":5.19,"y":36.8},{"x":5.20,"y":40.6},{"x":5.20,"y":43.8},{"x":5.15,"y":46.0},
{"x":5.21,"y":41.9},{"x":5.21,"y":39.2},{"x":5.22,"y":44.3},{"x":5.22,"y":42.6},{"x":5.23,"y":40.5},{"x":5.23,"y":37.9},{"x":5.24,"y":35.6},{"x":5.24,"y":43.7},{"x":5.25,"y":41.2},{"x":5.25,"y":45.4},{"x":5.26,"y":39.6},{"x":5.26,"y":42.9},{"x":5.27,"y":44.8},{"x":5.27,"y":38.3},{"x":5.28,"y":41.6},{"x":5.28,"y":43.3},{"x":5.29,"y":46.5},{"x":5.29,"y":40.1},{"x":5.30,"y":42.4},{"x":5.30,"y":44.0},
{"x":5.31,"y":41.0},{"x":5.32,"y":43.6},{"x":5.32,"y":38.9},{"x":5.33,"y":45.1},{"x":5.34,"y":42.2},{"x":5.34,"y":40.3},{"x":5.35,"y":44.4},{"x":5.36,"y":37.8},{"x":5.36,"y":42.8},{"x":5.37,"y":45.7},{"x":5.38,"y":41.5},{"x":5.38,"y":43.9},{"x":5.39,"y":46.3},{"x":5.39,"y":46.4},{"x":5.40,"y":40.7},
{"x":5.41,"y":43.1},{"x":5.42,"y":37.0},{"x":5.42,"y":45.0},{"x":5.43,"y":41.9},{"x":5.44,"y":44.2},{"x":5.45,"y":39.5},{"x":5.46,"y":42.7},{"x":5.47,"y":45.6},{"x":5.48,"y":43.5},{"x":5.49,"y":46.8},{"x":5.49,"y":39.3},{"x":5.50,"y":44.0},
{"x":5.51,"y":42.0},{"x":5.52,"y":44.7},{"x":5.53,"y":45.5},{"x":5.54,"y":41.3},{"x":5.55,"y":43.4},{"x":5.56,"y":40.3},{"x":5.57,"y":38.3},{"x":5.58,"y":44.6},{"x":5.59,"y":42.5},{"x":5.60,"y":45.8},
{"x":5.61,"y":43.0},{"x":5.62,"y":41.6},{"x":5.63,"y":45.2},{"x":5.64,"y":47.4},{"x":5.64,"y":39.3},{"x":5.65,"y":36.7},{"x":5.66,"y":44.1},{"x":5.67,"y":42.2},{"x":5.68,"y":45.9},{"x":5.70,"y":43.5},
{"x":5.71,"y":41.2},{"x":5.72,"y":44.8},{"x":5.74,"y":42.9},{"x":5.75,"y":48.4},{"x":5.76,"y":43.7},{"x":5.77,"y":46.8},{"x":5.78,"y":41.8},{"x":5.79,"y":44.5},
{"x":5.81,"y":45.3},{"x":5.82,"y":42.4},{"x":5.84,"y":44.0},{"x":5.86,"y":49.5},{"x":5.87,"y":43.1},{"x":5.88,"y":45.6},{"x":5.89,"y":41.0},{"x":5.90,"y":40.1},
{"x":5.91,"y":40.1},{"x":5.92,"y":44.9},{"x":5.93,"y":42.6},{"x":5.95,"y":45.8},{"x":5.96,"y":43.4},{"x":5.97,"y":44.3},{"x":5.98,"y":41.9},{"x":5.99,"y":46.0},{"x":5.94,"y":41.7},{"x":5.96,"y":42.9},
{"x":6.03,"y":46.8},{"x":6.03,"y":39.1},{"x":6.06,"y":39.5},{"x":6.11,"y":46.4},{"x":6.13,"y":48.2},{"x":6.13,"y":47.9},{"x":6.13,"y":40.1},{"x":6.13,"y":42.7},{"x":6.17,"y":41.4},{"x":6.21,"y":47.2},{"x":6.21,"y":44.5},{"x":6.22,"y":42.6},{"x":6.22,"y":43.9},{"x":6.27,"y":44.5},{"x":6.29,"y":40.7},{"x":6.33,"y":41.6},{"x":6.37,"y":40.2},{"x":6.37,"y":40.0},{"x":6.37,"y":43.0},{"x":6.39,"y":47.4},{"x":6.40,"y":41.6},{"x":6.01,"y":44.0},{"x":6.04,"y":42.3},{"x":6.07,"y":44.6},{"x":6.09,"y":43.2},{"x":6.15,"y":45.0},{"x":6.19,"y":43.5},{"x":6.25,"y":45.4},{"x":6.31,"y":44.0},{"x":6.35,"y":45.2},
{"x":6.45,"y":43.0},{"x":6.45,"y":43.3},{"x":6.49,"y":44.6},{"x":6.55,"y":42.9},{"x":6.55,"y":44.0},{"x":6.58,"y":44.8},{"x":6.60,"y":46.6},{"x":6.60,"y":44.9},{"x":6.63,"y":45.0},{"x":6.63,"y":44.0},{"x":6.65,"y":44.1},{"x":6.67,"y":40.7},{"x":6.70,"y":42.4},{"x":6.70,"y":47.6},{"x":6.71,"y":47.5},{"x":6.71,"y":45.2},{"x":6.71,"y":45.8},{"x":6.72,"y":44.8},{"x":6.72,"y":44.0},{"x":6.72,"y":44.4},{"x":6.73,"y":44.9},{"x":6.75,"y":45.1},{"x":6.79,"y":43.2},{"x":6.80,"y":48.7},{"x":6.80,"y":46.3},{"x":6.80,"y":46.2},{"x":6.87,"y":44.2},{"x":6.90,"y":45.7},{"x":6.93,"y":45.3},{"x":6.94,"y":45.4},{"x":6.98,"y":43.6},{"x":6.42,"y":44.1},{"x":6.47,"y":45.5},{"x":6.52,"y":46.0},{"x":6.68,"y":44.4},{"x":6.67,"y":44.6},
{"x":7.14,"y":45.6},{"x":7.25,"y":42.5},{"x":7.47,"y":47.6},{"x":7.49,"y":42.2},{"x":7.56,"y":43.2},{"x":7.71,"y":47.9}
]
},
"encoding": {
"x": {"field": "x", "type": "quantitative", "scale": {"domain": [2, 8], "nice": false, "zero": false},
 "axis": {"values": [2, 2.5, 3, 3.5, 4, 4.5, 5, 5.5, 6, 6.5, 7, 7.5, 8], "format": ".0f", "title": "Wind Speed at 10 m above Ground Level, m/s", "titleFont": "Liberation Sans", "titleFontSize": 16, "titleFontWeight": "bold", "titleColor": "black", "titlePadding": 11, "labelFont": "Liberation Sans", "labelFontSize": 15, "labelColor": "black", "labelPadding": 7, "labelExpr": "datum.value % 1 === 0 ? datum.label : ''", "labelFlush": false, "labelOverlap": false, "tickSize": 5, "tickColor": "black", "tickOpacity": {"condition": {"test": "datum.value % 1 !== 0", "value": 0}, "value": 1}, "domainColor": "black", "domainWidth": 1.3, "grid": true, "gridColor": "#4f74f0", "gridWidth": 1, "gridOpacity": {"condition": {"test": "datum.value === 2 || datum.value === 8", "value": 0}, "value": 1}}},
"y": {"field": "y", "type": "quantitative", "scale": {"domain": [0, 65], "nice": false, "zero": false},
 "axis": {"values": [0, 5, 10, 15, 20, 25, 30, 35, 40, 45, 50, 55, 60, 65], "title": "L90(10 min)  Sound Pressure Level, dBA", "titleFont": "Liberation Sans", "titleFontSize": 16, "titleFontWeight": "bold", "titleColor": "black", "titlePadding": 7, "labelFont": "Liberation Sans", "labelFontSize": 15, "labelColor": "black", "labelPadding": 5, "labelOverlap": false, "labelFlush": false, "tickSize": 5, "tickColor": "black", "domainColor": "black", "domainWidth": 1.3, "grid": true, "gridColor": "#4f74f0", "gridWidth": 1, "gridOpacity": {"condition": {"test": "datum.value === 0 || datum.value === 65", "value": 0}, "value": 1}}}
},
"layer": [
{"data": {"name": "boxes"}, "mark": {"type": "rect", "fill": "white", "strokeWidth": 0}, "encoding": {"x2": {"field": "x2"}, "y2": {"field": "y2"}}},
{"data": {"name": "pts"}, "mark": {"type": "point", "shape": "circle", "filled": false, "color": "black", "size": 14, "strokeWidth": 1.2, "opacity": 1}},
{"data": {"name": "trend"}, "mark": {"type": "line", "color": "black", "strokeWidth": 2.2}, "encoding": {}},
{"data": {"name": "model"}, "mark": {"type": "circle", "size": 160, "opacity": 1},
 "encoding": {"color": {"datum": "Model Prediction at Key Integer Wind Speeds", "type": "nominal", "scale": {"range": ["#ff0000"]},
  "legend": {"title": null, "orient": "none", "legendX": 495, "legendY": 383, "fillColor": "white", "padding": 12, "symbolSize": 160, "symbolType": "circle", "symbolStrokeWidth": 0, "labelFont": "Liberation Sans", "labelFontSize": 14.7, "labelColor": "black", "labelOffset": 17, "labelLimit": 400}}}},
{"data": {"name": "notes"}, "mark": {"type": "text", "font": "Liberation Sans", "fontSize": 14.7, "color": "black", "align": "center", "baseline": "middle"}, "encoding": {"text": {"field": "text"}}}
]
}
